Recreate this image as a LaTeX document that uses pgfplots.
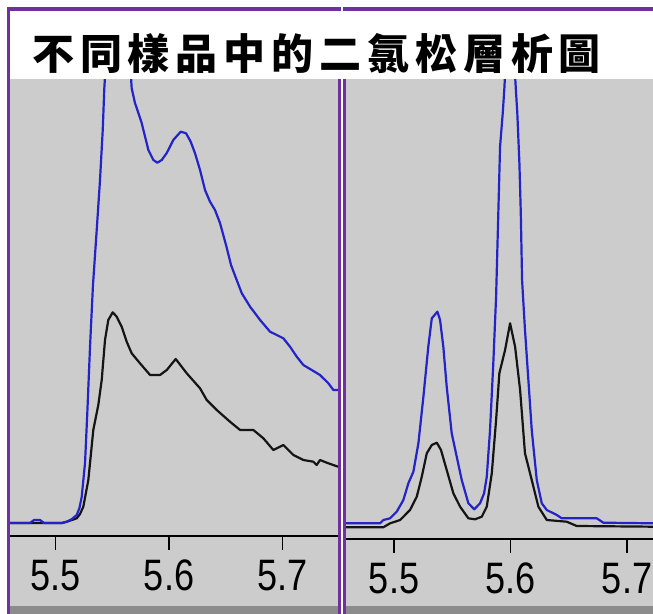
\documentclass[border=0pt]{standalone}
\usepackage{fontspec}
\usepackage{pgfplots}
\pgfplotsset{compat=1.18}
\usepackage{pgfplotstable}
\newfontfamily\tickfont[FakeStretch=0.82]{Liberation Sans}
\newfontfamily\cjk[LetterSpace=14]{Noto Sans CJK TC}
\definecolor{panelgray}{RGB}{204,204,204}
\definecolor{stripgray}{RGB}{140,140,140}
\definecolor{framepurple}{RGB}{112,48,160}
\definecolor{traceblue}{RGB}{35,35,200}
\definecolor{traceblack}{RGB}{20,20,20}

% Left panel, sample 1 (blue) and sample 2 (black)
\pgfplotstableread{
x y
5.4599 13
5.4775 13
5.4811 16
5.4863 16
5.4899 13
5.5057 13
5.5101 14.3
5.5145 17
5.5187 21
5.5211 28
5.5231 39.3
5.5260 73
5.5280 123
5.5304 189.3
5.5330 251
5.5363 306
5.5392 356
5.5416 406
5.5430 448
5.5445 476
5.5551 516
5.5656 476
5.5671 447.7
5.5700 433
5.5730 423
5.5759 413
5.5789 399.3
5.5818 386
5.5862 376
5.5897 373.3
5.5936 376
5.5980 383
5.6038 396
5.6103 404.3
5.6150 402.7
5.6191 394.3
5.6229 382.7
5.6273 366
5.6317 346
5.6361 334.3
5.6405 326
5.6449 313
5.6502 291
5.6546 271
5.6596 256
5.6641 242.7
5.6714 229.3
5.6802 216
5.6890 204.3
5.6949 201
5.7007 197.7
5.7066 189.3
5.7125 179.3
5.7183 171
5.7257 166
5.7330 161
5.7404 152.7
5.7448 146
5.7489 146
}\leftblue

\pgfplotstableread{
x y
5.4599 13
5.5057 13
5.5099 14.3
5.5145 16
5.5187 17.7
5.5216 22
5.5245 29.3
5.5289 56
5.5333 106
5.5377 131
5.5407 156
5.5436 196
5.5465 216
5.5504 223.7
5.5539 219.3
5.5583 209.3
5.5627 194.3
5.5671 182.7
5.5744 172.7
5.5833 161
5.5921 161
5.5980 166
5.6059 177
5.6156 162.7
5.6273 147.7
5.6332 136
5.6420 126
5.6537 114.3
5.6626 106
5.6743 106
5.6831 97.7
5.6919 86
5.7007 91
5.7095 81
5.7183 76
5.7271 74.3
5.7301 71
5.7330 76
5.7389 73.3
5.7489 69.3
}\leftblack

% Right panel
\pgfplotstableread{
x y
5.4585 15.7
5.4880 15.7
5.4908 19
5.4966 20.7
5.5023 27.3
5.5080 39
5.5123 55.7
5.5166 67.3
5.5209 95.7
5.5252 142.3
5.5294 192.3
5.5324 220.7
5.5372 227.3
5.5395 219
5.5423 192.3
5.5452 152.3
5.5495 105.7
5.5538 82.3
5.5581 59
5.5638 35.7
5.5689 29.7
5.5738 35.7
5.5773 45.7
5.5796 62.3
5.5824 109
5.5852 175.7
5.5876 242.3
5.5895 325.7
5.5910 392.3
5.5933 425.7
5.5947 450.7
5.5957 474
5.5996 519
5.6034 474
5.6045 450.7
5.6058 426
5.6076 376
5.6088 326
5.6099 259
5.6124 209
5.6153 159
5.6182 109
5.6225 59
5.6268 35.7
5.6311 29
5.6397 24
5.6439 20.7
5.6740 20.7
5.6797 16.3
5.7223 15.7
}\rightblue

\pgfplotstableread{
x y
5.4585 11.7
5.4908 11.7
5.4966 15.7
5.5052 19
5.5137 29
5.5195 42.3
5.5238 62.3
5.5281 85.7
5.5324 94
5.5367 96.3
5.5403 89
5.5452 69
5.5509 45.7
5.5567 32.3
5.5638 20.7
5.5695 19.7
5.5753 22.3
5.5796 32.3
5.5839 65.7
5.5876 119
5.5904 165.7
5.5953 189
5.5996 215.7
5.6039 192.3
5.6082 149
5.6124 85.7
5.6182 59
5.6239 32.3
5.6311 19
5.6482 17.3
5.6568 13
5.7223 12.3
}\rightblack

\pgfplotsset{
  panel/.style={
    anchor=south west, scale only axis, clip=false,
    axis line style={draw=none},
    ytick=\empty,
    xtick={5.5,5.6,5.7}, xticklabels={5.5,5.6,5.7},
    xtick pos=bottom,
    tick align=outside, major tick length=14bp,
    every tick/.style={line width=1.6bp, black},
    xticklabel style={font=\tickfont\fontsize{44bp}{44bp}\selectfont, anchor=north, inner sep=0pt, yshift=-10bp},
    ymin=0,
  },
  trace/.style={line width=2.2bp, no markers, line join=round},
}

\begin{document}
\begin{tikzpicture}[x=1bp,y=1bp]
\useasboundingbox (0,0) rectangle (653,614);
\fill[white] (0,0) rectangle (653,614);
\fill[panelgray] (8,0) rectangle (340,605);
\fill[panelgray] (344,0) rectangle (653,605);
\fill[stripgray] (8,0) rectangle (340,8);
\fill[stripgray] (344,0) rectangle (653,8);

\begin{axis}[panel, at={(10bp,78bp)}, width=327.7bp, height=457bp,
  xmin=5.4599, xmax=5.7486, ymax=457]
  \addplot[trace, traceblack] table {\leftblack};
  \addplot[trace, traceblue] table {\leftblue};
  \coordinate (LA) at (axis cs:5.4599,0);
  \coordinate (LB) at (axis cs:5.7486,0);
  \coordinate (LtickA) at (axis cs:5.5,0);
  \coordinate (LtickB) at (axis cs:5.6,0);
  \coordinate (LtickC) at (axis cs:5.7,0);
\end{axis}

\begin{axis}[panel, at={(345.7bp,75bp)}, width=307.3bp, height=460bp,
  xmin=5.4585, xmax=5.7223, ymax=460]
  \addplot[trace, traceblack] table {\rightblack};
  \addplot[trace, traceblue] table {\rightblue};
  \coordinate (RA) at (axis cs:5.4585,0);
  \coordinate (RB) at (axis cs:5.7223,0);
  \coordinate (RtickA) at (axis cs:5.5,0);
  \coordinate (RtickB) at (axis cs:5.6,0);
  \coordinate (RtickC) at (axis cs:5.7,0);
\end{axis}

\draw[line width=1.6bp, black] (LA) -- (LB);
\draw[line width=1.6bp, black] (RA) -- (RB);
\fill[black] (LtickA) ++(-0.9,0) rectangle ++(1.8,-14);
\fill[black] (LtickB) ++(-0.9,0) rectangle ++(1.8,-14);
\fill[black] (LtickC) ++(-0.9,0) rectangle ++(1.8,-14);
\fill[black] (RtickA) ++(-0.9,0) rectangle ++(1.8,-14);
\fill[black] (RtickB) ++(-0.9,0) rectangle ++(1.8,-14);
\fill[black] (RtickC) ++(-0.9,0) rectangle ++(1.8,-14);

\draw[framepurple, line width=3.3bp] (8.3,-5) -- (8.3,605) -- (339.2,605) -- (339.2,-5);
\draw[framepurple, line width=3.3bp] (344.6,-5) -- (344.6,605) -- (660,605);
\fill[white] (10,535) rectangle (653,603.3);
\node[anchor=west, inner sep=0pt] at (32,560) {\cjk\bfseries\fontsize{42bp}{50bp}\selectfont 不同樣品中的二氯松層析圖};
\end{tikzpicture}
\end{document}
